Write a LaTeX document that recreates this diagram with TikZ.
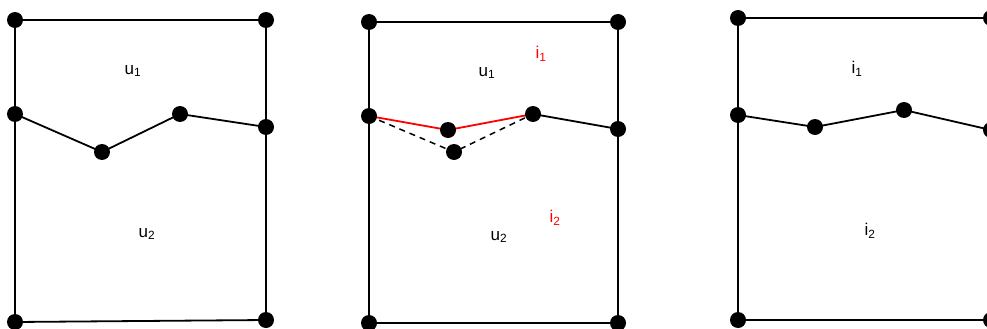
\documentclass[tikz,border=0pt]{standalone}
\usepackage{fontspec}
\setmainfont{Liberation Sans}
\begin{document}
\begin{tikzpicture}[x=1pt,y=-1pt,
  pt/.style={circle,fill=black,inner sep=0pt,minimum size=16pt},
  edge/.style={line width=1.8pt,black},
  rededge/.style={line width=1.8pt,red},
  dashedge/.style={line width=1.5pt,black,dashed,dash pattern=on 6pt off 5pt},
  lbl/.style={font=\fontsize{17}{19}\selectfont,inner sep=0pt},
  redlbl/.style={lbl,text=red}]
\useasboundingbox (0,0) rectangle (987,329);
\clip (0,0) rectangle (987,329);
% ---------- panel 1 ----------
\coordinate (a1) at (15,20);
\coordinate (b1) at (266,20);
\coordinate (c1) at (15,114);
\coordinate (d1) at (102,152);
\coordinate (e1) at (180,114);
\coordinate (f1) at (266,127);
\coordinate (g1) at (15,322);
\coordinate (h1) at (266,320);
\draw[edge] (a1) -- (b1) -- (f1) -- (h1) -- (g1) -- (c1) -- (a1);
\draw[edge] (c1) -- (d1) -- (e1) -- (f1);
\foreach \p in {a1,b1,c1,d1,e1,f1,g1,h1} \node[pt] (n\p) at (\p) {};
\node[lbl] (u11) at (133,71) {u\textsubscript{1}};
\node[lbl] (u21) at (147,234) {u\textsubscript{2}};
% ---------- panel 2 ----------
\coordinate (a2) at (369,22);
\coordinate (b2) at (618,22);
\coordinate (c2) at (369,116);
\coordinate (d2) at (448,130);
\coordinate (x2) at (454,152);
\coordinate (e2) at (533,114);
\coordinate (f2) at (618,129);
\coordinate (g2) at (369,323);
\coordinate (h2) at (618,323);
\draw[edge] (a2) -- (b2) -- (f2) -- (h2) -- (g2) -- (c2) -- (a2);
\draw[rededge] (c2) -- (d2) -- (e2);
\draw[dashedge] (c2) -- (x2) -- (e2);
\draw[edge] (e2) -- (f2);
\foreach \p in {a2,b2,c2,d2,x2,e2,f2,g2,h2} \node[pt] (n\p) at (\p) {};
\node[redlbl] (i12) at (541,54) {i\textsubscript{1}};
\node[lbl] (u12) at (487,73) {u\textsubscript{1}};
\node[redlbl] (i22) at (555,218) {i\textsubscript{2}};
\node[lbl] (u22) at (499,237) {u\textsubscript{2}};
% ---------- panel 3 ----------
\coordinate (a3) at (738,18);
\coordinate (b3) at (991,18);
\coordinate (c3) at (738,115);
\coordinate (d3) at (815,127);
\coordinate (e3) at (904,110);
\coordinate (f3) at (991,130);
\coordinate (g3) at (738,320);
\coordinate (h3) at (991,320);
\draw[edge] (a3) -- (b3) -- (f3) -- (h3) -- (g3) -- (c3) -- (a3);
\draw[edge] (c3) -- (d3) -- (e3) -- (f3);
\foreach \p in {a3,b3,c3,d3,e3,f3,g3,h3} \node[pt] (n\p) at (\p) {};
\node[lbl] (i13) at (857,69) {i\textsubscript{1}};
\node[lbl] (i23) at (870,231) {i\textsubscript{2}};
\end{tikzpicture}
\end{document}
